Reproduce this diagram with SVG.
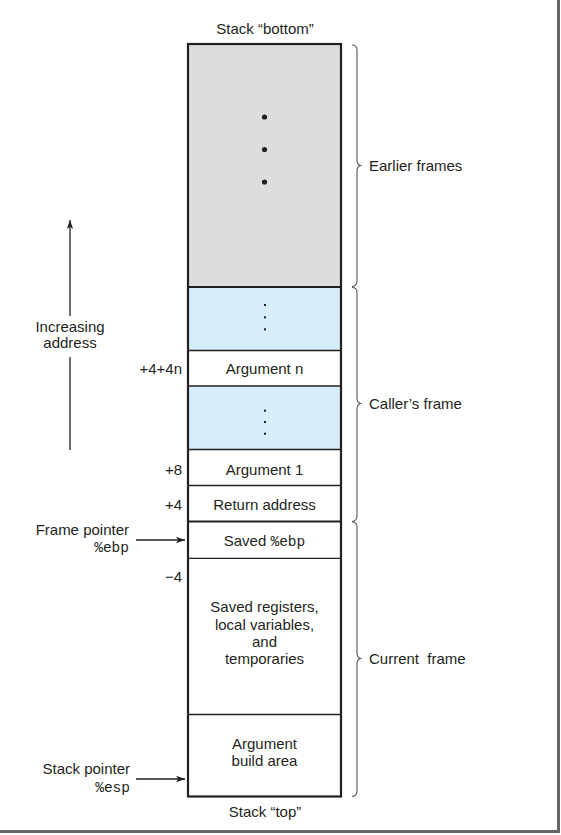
<svg xmlns="http://www.w3.org/2000/svg" width="561" height="835" viewBox="0 0 561 835">
<defs>
<style>
text{font-family:"Liberation Sans",Arial,sans-serif;font-size:15px;fill:#231f20}
.c{text-anchor:middle}
.r{text-anchor:end}
.m{font-family:"Liberation Mono","DejaVu Sans Mono",monospace;font-size:14.5px}
.ln{stroke:#231f20;stroke-width:1.3;fill:none}
.thk{stroke:#231f20;stroke-width:2.2;fill:none}
.br{stroke:#555;stroke-width:1.1;fill:none}
.gray{fill:#dcdddf}
.blue{fill:#d5eefa}
</style>
<marker id="ah" viewBox="0 0 10 10" refX="10" refY="5" markerWidth="9" markerHeight="9" markerUnits="userSpaceOnUse" orient="auto">
<path d="M0,1.5 L10,5 L0,8.5 L2.5,5 Z" fill="#231f20"/>
</marker>
</defs>
<rect width="561" height="835" fill="#fff"/>
<!-- page frame shadow -->
<rect x="557" y="0" width="3" height="833" fill="#666"/>
<rect x="0" y="830" width="560" height="3" fill="#666"/>

<text class="c" x="265" y="34">Stack “bottom”</text>
<text class="c" x="265" y="817">Stack “top”</text>

<g id="earlier-frames">
<rect class="gray" x="188" y="44" width="153" height="243"/>
<circle cx="264.5" cy="117" r="2.6" fill="#231f20"/>
<circle cx="264.5" cy="149.5" r="2.6" fill="#231f20"/>
<circle cx="264.5" cy="182" r="2.6" fill="#231f20"/>
</g>
<g id="caller-dots-1">
<rect class="blue" x="188" y="287" width="153" height="63.5"/>
<rect x="264" y="304" width="2" height="2" fill="#231f20"/>
<rect x="264" y="316.3" width="2" height="2" fill="#231f20"/>
<rect x="264" y="328.3" width="2" height="2" fill="#231f20"/>
</g>
<g id="argument-n">
<text class="c" x="264.5" y="374">Argument n</text>
<text class="r" x="182" y="374">+4+4n</text>
</g>
<g id="caller-dots-2">
<rect class="blue" x="188" y="386" width="153" height="63.5"/>
<rect x="264" y="409.7" width="2" height="2" fill="#231f20"/>
<rect x="264" y="421" width="2" height="2" fill="#231f20"/>
<rect x="264" y="432.7" width="2" height="2" fill="#231f20"/>
</g>
<g id="argument-1">
<text class="c" x="264.5" y="475">Argument 1</text>
<text class="r" x="182" y="475">+8</text>
</g>
<g id="return-address">
<text class="c" x="264.5" y="509.5">Return address</text>
<text class="r" x="182" y="509.5">+4</text>
</g>
<g id="saved-ebp">
<text class="c" x="264.5" y="545.5">Saved <tspan class="m">%ebp</tspan></text>
</g>
<g id="saved-registers">
<text class="r" x="182" y="582">−4</text>
<text class="c" x="264.5" y="612">Saved registers,</text>
<text class="c" x="264.5" y="630">local variables,</text>
<text class="c" x="264.5" y="647">and</text>
<text class="c" x="264.5" y="664">temporaries</text>
</g>
<g id="argument-build">
<text class="c" x="264.5" y="749">Argument</text>
<text class="c" x="264.5" y="765.5">build area</text>
</g>

<!-- stack dividers and outline -->
<g id="stack-lines">
<line class="thk" x1="188" y1="287" x2="341" y2="287"/>
<line class="ln" x1="188" y1="350.5" x2="341" y2="350.5"/>
<line class="ln" x1="188" y1="386" x2="341" y2="386"/>
<line class="ln" x1="188" y1="449.5" x2="341" y2="449.5"/>
<line class="ln" x1="188" y1="485.5" x2="341" y2="485.5"/>
<line class="thk" x1="188" y1="521.5" x2="341" y2="521.5"/>
<line class="ln" x1="188" y1="558.3" x2="341" y2="558.3"/>
<line class="ln" x1="188" y1="714.5" x2="341" y2="714.5"/>
<rect class="thk" x="188" y="44" width="153" height="752.5"/>
</g>

<g id="labels-left">
<text class="c" x="70" y="332">Increasing</text>
<text class="c" x="70" y="348">address</text>
<text class="r" x="129" y="535">Frame pointer</text>
<text class="r m" x="129" y="552">%ebp</text>
<text class="r" x="130" y="774">Stack pointer</text>
<text class="r m" x="130" y="792">%esp</text>
</g>

<g id="connectors">
<line class="ln" x1="70" y1="316" x2="70" y2="220" stroke-width="1.2" marker-end="url(#ah)"/>
<line class="ln" x1="70" y1="357" x2="70" y2="450" stroke-width="1.2"/>
<line class="ln" x1="136" y1="540" x2="185" y2="540" stroke-width="1.2" marker-end="url(#ah)"/>
<line class="ln" x1="136" y1="779" x2="185" y2="779" stroke-width="1.2" marker-end="url(#ah)"/>
<path class="br" d="M352,45 q5,0 5,5 V160 q0,4.5 3.5,5.5 q-3.5,1 -3.5,5.5 V281 q0,5 -5,5.5"/>
<path class="br" d="M352,287.5 q5,0 5,5 V398 q0,4.5 3.5,5.5 q-3.5,1 -3.5,5.5 V516 q0,5 -5,5.5"/>
<path class="br" d="M352,522 q5,0 5,5 V653 q0,4.5 3.5,5.5 q-3.5,1 -3.5,5.5 V791 q0,5 -5,5.5"/>
</g>
<g id="labels-right">
<text x="369" y="171">Earlier frames</text>
<text x="369" y="409">Caller’s frame</text>
<text x="369" y="663.5" xml:space="preserve">Current  frame</text>
</g>
</svg>
